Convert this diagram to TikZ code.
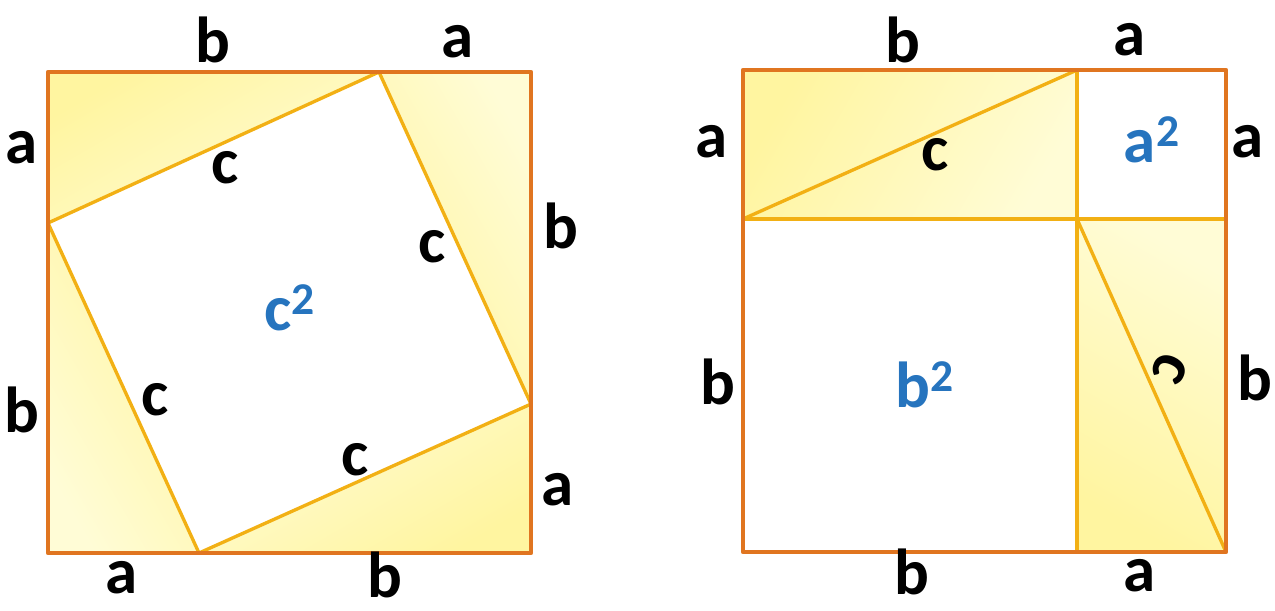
\documentclass[tikz,border=0pt]{standalone}
\usepackage{fontspec}
\setmainfont{Carlito}
\usetikzlibrary{calc}
\definecolor{edgeorange}{RGB}{224,117,32}
\definecolor{legyellow}{RGB}{242,176,20}
\definecolor{filldark}{RGB}{255,245,160}
\definecolor{filllight}{RGB}{255,252,214}
\definecolor{areablue}{RGB}{38,116,190}
\tikzset{
  side/.style={font=\fontsize{37}{40}\selectfont\bfseries,inner sep=0pt},
  area/.style={side,text=areablue},
  tri/.style={left color=filldark,right color=filllight},
  outer/.style={draw=edgeorange,line width=2.6pt},
  inner/.style={draw=legyellow,line width=1.9pt}
}

\begin{document}
\begin{tikzpicture}[x=0.02cm,y=-0.02cm,line join=round]
\useasboundingbox (0,0) rectangle (1275,610);
% left square
\coordinate (A) at (48,72);
\coordinate (B) at (531,72);
\coordinate (C) at (531,553);
\coordinate (D) at (48,553);
\coordinate (P) at (379,72);
\coordinate (Q) at (48,223);
\coordinate (R) at (199,553);
\coordinate (S) at (531,404);
\shade[tri,shading angle=30] (A) -- (P) -- (Q) -- cycle;
\shade[tri,shading angle=120] (P) -- (B) -- (S) -- cycle;
\shade[tri,shading angle=210] (S) -- (C) -- (R) -- cycle;
\shade[tri,shading angle=300] (R) -- (D) -- (Q) -- cycle;
\draw[inner] (P) -- (S) -- (R) -- (Q) -- cycle;
\draw[outer] (A) rectangle (C);
% right square
\coordinate (E) at (743,70);
\coordinate (G) at (1226,552);
\coordinate (M) at (1077,70);
\coordinate (N) at (743,219);
\coordinate (K) at (1077,219);
\coordinate (L) at (1226,219);
\coordinate (J) at (1077,552);
\shade[tri,shading angle=60] (E) rectangle (K);
\shade[tri,shading angle=150] (K) rectangle (G);
\draw[inner] (N) -- (M);
\draw[inner] (K) -- (G);
\draw[inner] (M) -- (J);
\draw[inner] (N) -- (L);
\draw[outer] (E) rectangle (G);
% labels left
\node[side] (lb1) at (213,40) {b};
\node[side] (la1) at (458,42) {a};
\node[side] (la2) at (22,148) {a};
\node[side] (lb2) at (22,410) {b};
\node[side] (lb3) at (561,226) {b};
\node[side] (la3) at (558,490) {a};
\node[side] (la4) at (122,578) {a};
\node[side] (lb4) at (385,575) {b};
\node[side] (lc1) at (225,168) {c};
\node[side] (lc2) at (432,247) {c};
\node[side] (lc3) at (155,400) {c};
\node[side] (lc4) at (355,460) {c};
\node[area] (lcc) at (290,308) {c\textsuperscript{2}};
% labels right
\node[side] (rb1) at (903,40) {b};
\node[side] (ra1) at (1130,40) {a};
\node[side] (ra2) at (712,142) {a};
\node[side] (rb2) at (718,382) {b};
\node[side] (ra3) at (1248,142) {a};
\node[side] (rb3) at (1255,378) {b};
\node[side] (rb4) at (912,572) {b};
\node[side] (ra4) at (1140,576) {a};
\node[side] (rc1) at (935,155) {c};
\node[side,rotate=-115] (rc2) at (1170,368) {c};
\node[area] (raa) at (1152,140) {a\textsuperscript{2}};
\node[area] (rbb) at (925,385) {b\textsuperscript{2}};
\end{tikzpicture}
\end{document}
